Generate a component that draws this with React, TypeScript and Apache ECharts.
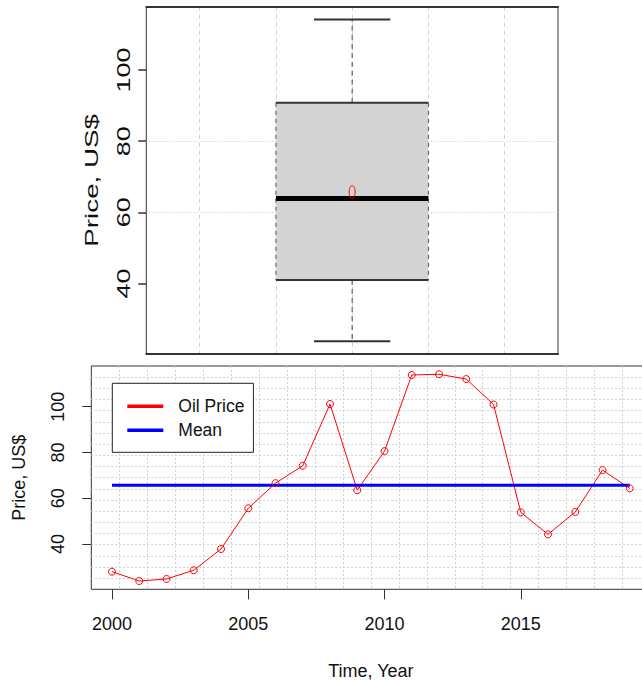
import React, { useEffect, useRef } from "react";
import * as echarts from "echarts";

const years = [2000, 2001, 2002, 2003, 2004, 2005, 2006, 2007, 2008, 2009, 2010, 2011, 2012, 2013, 2014, 2015, 2016, 2017, 2018, 2019];
const oilPrice = [27.9, 23.8, 24.7, 28.5, 37.8, 55.6, 66.6, 74.2, 101.2, 63.5, 80.6, 113.9, 114.2, 112.1, 101.0, 53.8, 44.2, 54.0, 72.3, 64.3];
const yTicks = [40, 60, 80, 100];
const xTicks = [2000, 2005, 2010, 2015];
const seriesNames = ["Oil Price", "Mean"];
const yTitle = "Price, US$";
const xTitle = "Time, Year";

const FONT = '"Liberation Sans", Arial, sans-serif';

function fivenum(values: number[]) {
  const x = [...values].sort((a, b) => a - b);
  const n = x.length;
  const n4 = Math.floor((n + 3) / 2) / 2;
  const d = [1, n4, (n + 1) / 2, n + 1 - n4, n];
  return d.map((v) => 0.5 * (x[Math.floor(v) - 1] + x[Math.ceil(v) - 1]));
}

export default function App() {
  const ref = useRef<HTMLDivElement>(null);
  useEffect(() => {
    if (!ref.current) return;
    const chart = echarts.init(ref.current, undefined, { renderer: "svg" });
    const stats = fivenum(oilPrice);
    const mean = oilPrice.reduce((a, b) => a + b, 0) / oilPrice.length;
    const dMin = Math.min(...oilPrice);
    const dMax = Math.max(...oilPrice);
    const pad = 0.04 * (dMax - dMin);
    const yMin = dMin - pad;
    const yMax = dMax + pad;
    const xPad = 0.04 * (years[years.length - 1] - years[0]);

    const option: any = {
      animation: false,
      backgroundColor: "#ffffff",
      textStyle: { fontFamily: FONT },
      grid: [
        { left: 146.3, top: 6.7, width: 411.7, height: 347.3, show: true, borderColor: "#333", borderWidth: 1, backgroundColor: "transparent", containLabel: false, outerBoundsMode: "none" },
        { left: 91.3, top: 366, width: 559.2, height: 223.3, show: true, borderColor: "#333", borderWidth: 1, backgroundColor: "transparent", containLabel: false, outerBoundsMode: "none" },
      ],
      xAxis: [
        {
          type: "value", gridIndex: 0, min: 0.46, max: 1.54, minInterval: 0.2, maxInterval: 0.2, position: "bottom",
          axisLine: { show: true, onZero: false, lineStyle: { color: "#333", width: 2 } },
          axisTick: { show: false }, axisLabel: { show: false },
          splitLine: { show: true, showMinLine: false, showMaxLine: false, lineStyle: { color: "#cfcfcf", width: 1, type: [4, 4] } },
        },
        {
          type: "value", gridIndex: 0, min: 0.46, max: 1.54, position: "top",
          axisLine: { show: true, onZero: false, lineStyle: { color: "#333", width: 2 } },
          axisTick: { show: false }, axisLabel: { show: false }, splitLine: { show: false },
        },
        {
          type: "value", gridIndex: 1, min: years[0] - xPad, max: years[years.length - 1] + xPad, position: "bottom",
          axisLine: { show: false, onZero: false },
          axisTick: { show: true, length: 10, customValues: xTicks, lineStyle: { color: "#333", width: 1 } },
          axisLabel: { show: true, customValues: xTicks, margin: 26, fontSize: 18, color: "#111", fontFamily: FONT, formatter: (v: number) => String(v) },
          splitLine: { show: false },
          name: xTitle, nameLocation: "middle", nameGap: 73, nameTextStyle: { fontSize: 18, color: "#111", fontFamily: FONT },
        },
        {
          type: "value", gridIndex: 1, min: 0, max: 20, interval: 1, position: "top",
          axisLine: { show: false }, axisTick: { show: false }, axisLabel: { show: false },
          splitLine: { show: true, showMinLine: false, showMaxLine: false, lineStyle: { color: "#d0d0d0", width: 1, type: [2, 2] } },
        },
      ],
      yAxis: [
        {
          type: "value", gridIndex: 0, min: yMin, max: yMax, minInterval: 20, maxInterval: 20, position: "left",
          axisLine: { show: false, onZero: false },
          axisTick: { show: true, length: 8, customValues: yTicks, lineStyle: { color: "#333", width: 1.5 } },
          axisLabel: { show: false },
          splitLine: { show: true, showMinLine: false, showMaxLine: false, lineStyle: { color: "#c8c8c8", width: 1, type: [1, 2] } },
        },
        {
          type: "value", gridIndex: 1, min: yMin, max: yMax, position: "left",
          axisLine: { show: false, onZero: false },
          axisTick: { show: true, length: 9, customValues: yTicks, lineStyle: { color: "#333", width: 1 } },
          axisLabel: { show: true, customValues: yTicks, rotate: 90, margin: 24, fontSize: 18, color: "#111", fontFamily: FONT },
          splitLine: { show: false },
          name: yTitle, nameLocation: "middle", nameGap: 63, nameTextStyle: { fontSize: 18, color: "#111", fontFamily: FONT },
        },
        {
          type: "value", gridIndex: 1, min: 0, max: 20, interval: 1, position: "right",
          axisLine: { show: false }, axisTick: { show: false }, axisLabel: { show: false },
          splitLine: { show: true, showMinLine: false, showMaxLine: false, lineStyle: { color: "#d0d0d0", width: 1, type: [2, 2] } },
        },
      ],
      legend: {
        orient: "vertical", left: 112.3, top: 383.3,
        padding: [13, 9, 12, 15],
        itemGap: 4, itemWidth: 36, itemHeight: 3.5, icon: "rect",
        backgroundColor: "#ffffff", borderColor: "#222", borderWidth: 1, borderRadius: 0,
        textStyle: { fontSize: 17.5, color: "#111", fontFamily: FONT, lineHeight: 20, padding: [0, 0, 0, 10] },
        data: [
          { name: seriesNames[0], itemStyle: { color: "#ff0000", borderWidth: 0 } },
          { name: seriesNames[1], itemStyle: { color: "#0000ff", borderWidth: 0 } },
        ],
        selectedMode: false,
      },
      series: [
        {
          type: "custom", name: "box", xAxisIndex: 0, yAxisIndex: 0,
          encode: { x: 0, y: [1, 2, 3, 4, 5, 6] },
          data: [[1, stats[0], stats[1], stats[2], stats[3], stats[4], mean]],
          renderItem: (params: any, api: any) => {
            const cx = api.value(0);
            const lo = api.value(1), q1 = api.value(2), med = api.value(3), q3 = api.value(4), hi = api.value(5), mn = api.value(6);
            const hw = 0.2, sw = 0.1;
            const pL = api.coord([cx - hw, q3]);
            const pR = api.coord([cx + hw, q1]);
            const c = api.coord([cx, med]);
            const yLo = api.coord([cx, lo])[1];
            const yHi = api.coord([cx, hi])[1];
            const yQ1 = pR[1], yQ3 = pL[1];
            const sL = api.coord([cx - sw, hi])[0];
            const sR = api.coord([cx + sw, hi])[0];
            const pm = api.coord([cx, mn]);
            const dark = "#333";
            return {
              type: "group",
              children: [
                { type: "rect", shape: { x: pL[0], y: yQ3, width: pR[0] - pL[0], height: yQ1 - yQ3 }, style: { fill: "#d3d3d3", stroke: null } },
                { type: "line", shape: { x1: pL[0], y1: yQ3, x2: pL[0], y2: yQ1 }, style: { stroke: "#555", lineWidth: 1, lineDash: [4, 4] } },
                { type: "line", shape: { x1: pR[0], y1: yQ3, x2: pR[0], y2: yQ1 }, style: { stroke: "#555", lineWidth: 1, lineDash: [4, 4] } },
                { type: "line", shape: { x1: c[0], y1: yQ3, x2: c[0], y2: yHi }, style: { stroke: "#444", lineWidth: 1, lineDash: [5, 4] } },
                { type: "line", shape: { x1: c[0], y1: yQ1, x2: c[0], y2: yLo }, style: { stroke: "#444", lineWidth: 1, lineDash: [5, 4] } },
                { type: "line", shape: { x1: sL, y1: yHi, x2: sR, y2: yHi }, style: { stroke: dark, lineWidth: 2 } },
                { type: "line", shape: { x1: sL, y1: yLo, x2: sR, y2: yLo }, style: { stroke: dark, lineWidth: 2 } },
                { type: "line", shape: { x1: pL[0], y1: yQ3, x2: pR[0], y2: yQ3 }, style: { stroke: dark, lineWidth: 2 } },
                { type: "line", shape: { x1: pL[0], y1: yQ1, x2: pR[0], y2: yQ1 }, style: { stroke: dark, lineWidth: 2 } },
                { type: "line", shape: { x1: pL[0], y1: c[1], x2: pR[0], y2: c[1] }, style: { stroke: "#000", lineWidth: 5 } },
                { type: "ellipse", shape: { cx: pm[0], cy: pm[1], rx: 3, ry: 6.5 }, style: { fill: null, stroke: "#ff0000", lineWidth: 1 } },
              ],
            };
          },
        },
        {
          type: "line", name: seriesNames[0], xAxisIndex: 2, yAxisIndex: 1,
          data: years.map((y, i) => [y, oilPrice[i]]),
          symbol: "circle", symbolSize: 7, showSymbol: true,
          lineStyle: { color: "#ff0000", width: 1 },
          itemStyle: { color: "transparent", borderColor: "#ff0000", borderWidth: 1 },
          emphasis: { disabled: true },
        },
        {
          type: "line", name: seriesNames[1], xAxisIndex: 2, yAxisIndex: 1,
          data: [[years[0], mean], [years[years.length - 1], mean]],
          symbol: "none",
          lineStyle: { color: "#0000ff", width: 3 },
          itemStyle: { color: "#0000ff" },
          emphasis: { disabled: true },
        },
      ],
    };
    chart.setOption(option);

    const labelX = 123.3;
    const titleX = 91.7;
    const top0 = chart.convertToPixel({ yAxisIndex: 0 }, yMax) as number;
    const bot0 = chart.convertToPixel({ yAxisIndex: 0 }, yMin) as number;
    const graphics: any[] = yTicks.map((v) => ({
      type: "text",
      x: labelX,
      y: chart.convertToPixel({ yAxisIndex: 0 }, v) as number,
      rotation: Math.PI / 2,
      scaleX: 1.5,
      style: { text: String(v), fontSize: 18, fontFamily: FONT, fill: "#111", align: "center", verticalAlign: "middle" },
    }));
    graphics.push({
      type: "text",
      x: titleX,
      y: (top0 + bot0) / 2,
      rotation: Math.PI / 2,
      scaleX: 1.5,
      style: { text: yTitle, fontSize: 18.5, fontFamily: FONT, fill: "#111", align: "center", verticalAlign: "middle" },
    });
    chart.setOption({ graphic: graphics });

    return () => chart.dispose();
  }, []);
  return <div ref={ref} style={{ position: "fixed", left: 0, top: 0, width: 642, height: 682 }} />;
}
